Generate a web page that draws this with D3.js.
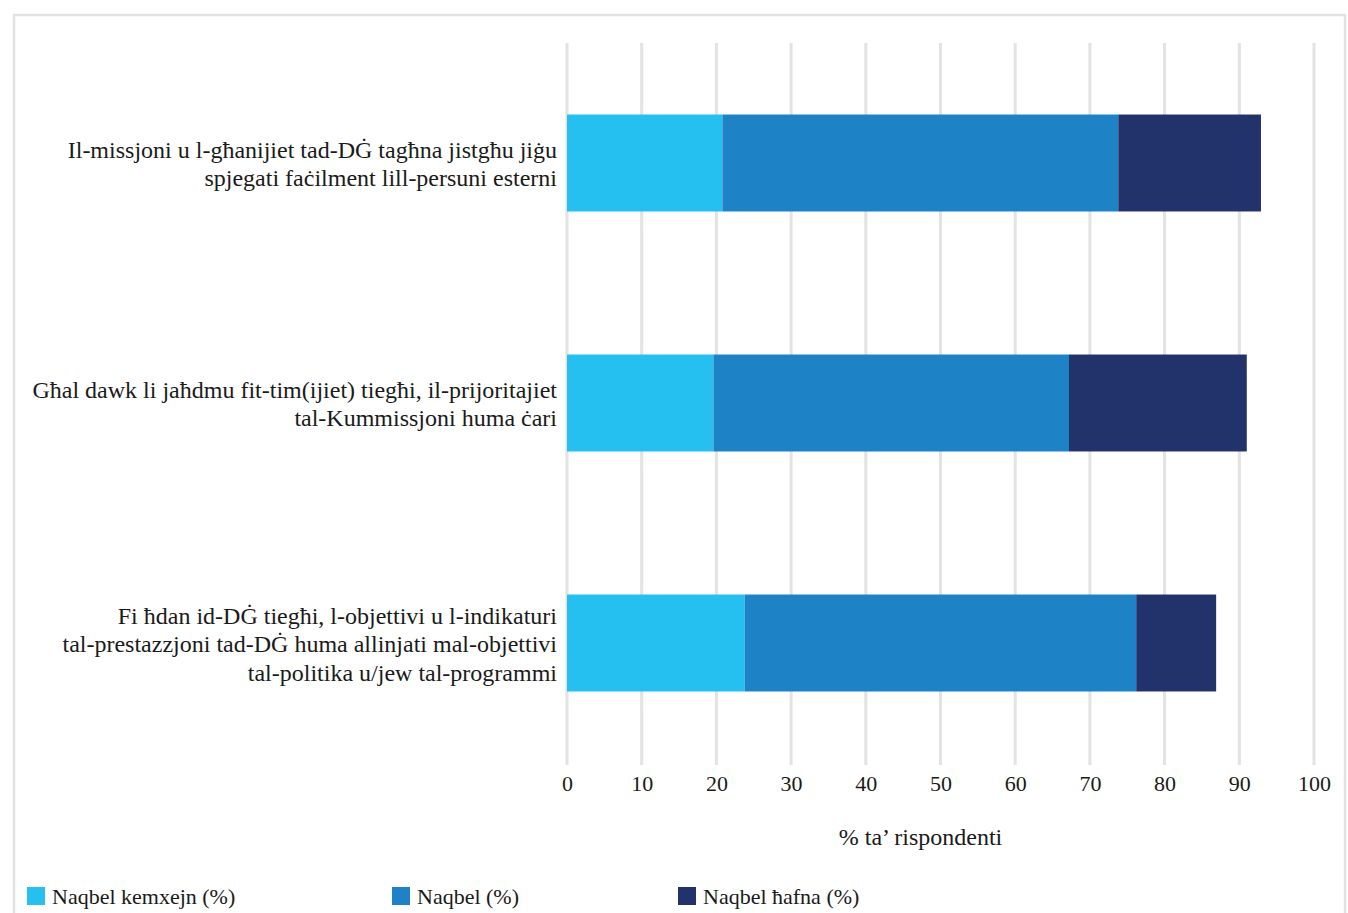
<!DOCTYPE html>
<html>
<head>
<meta charset="utf-8">
<script src="https://cdn.jsdelivr.net/npm/d3@7"></script>
<style>
    body { margin: 0; background: #fff; }
    svg text { font-family: "Liberation Serif", "DejaVu Serif", serif; fill: #1a1a1a; }
</style>
</head>
<body>
<div id="chart"></div>
<script>
/* ============================================= */
/* Data */
/* ============================================= */

const categories = [
    ['Il-missjoni u l-għanijiet tad-DĠ tagħna jistgħu jiġu', 'spjegati faċilment lill-persuni esterni'],
    ['Għal dawk li jaħdmu fit-tim(ijiet) tiegħi, il-prijoritajiet', 'tal-Kummissjoni huma ċari'],
    ['Fi ħdan id-DĠ tiegħi, l-objettivi u l-indikaturi', 'tal-prestazzjoni tad-DĠ huma allinjati mal-objettivi', 'tal-politika u/jew tal-programmi']
];
const seriesNames = ['Naqbel kemxejn (%)', 'Naqbel (%)', 'Naqbel ħafna (%)'];
const naqbelKemxejn = [20.8, 19.6, 23.8];
const naqbel = [53.0, 47.6, 52.4];
const naqbelHafna = [19.1, 23.8, 10.7];
const xTicks = [0, 10, 20, 30, 40, 50, 60, 70, 80, 90, 100];
const xTitle = '% ta\u2019 rispondenti';

const colors = ['#25bff0', '#1d83c6', '#22336b'];

/* ============================================= */
/* Layout */
/* ============================================= */

const width = 1348, height = 913;
const plot = { left: 567, right: 1314, top: 43, bottom: 763 };

const svg = d3.select('#chart').append('svg')
    .attr('width', width)
    .attr('height', height);

// outer frame
svg.append('rect')
    .attr('x', 14).attr('y', 15)
    .attr('width', width - 17).attr('height', height)
    .attr('fill', 'none')
    .attr('stroke', '#e2e2e2')
    .attr('stroke-width', 2.5);

const x = d3.scaleLinear().domain([0, 100]).range([plot.left, plot.right]);
const y = d3.scaleBand()
    .domain(d3.range(categories.length))
    .range([plot.top, plot.bottom])
    .paddingInner(0.596)
    .paddingOuter(0.298);

// gridlines
svg.append('g')
    .selectAll('line')
    .data(xTicks)
    .join('line')
    .attr('x1', d => x(d)).attr('x2', d => x(d))
    .attr('y1', plot.top).attr('y2', plot.bottom + 2)
    .attr('stroke', '#e3e3e3')
    .attr('stroke-width', 3);

/* ============================================= */
/* Bars */
/* ============================================= */

const rows = categories.map((c, i) => ({ i, v: [naqbelKemxejn[i], naqbel[i], naqbelHafna[i]] }));
const stacked = d3.stack().keys([0, 1, 2]).value((d, k) => d.v[k])(rows);

svg.append('g')
    .selectAll('g')
    .data(stacked)
    .join('g')
    .attr('fill', (d, k) => colors[k])
    .selectAll('rect')
    .data(d => d)
    .join('rect')
    .attr('x', d => x(d[0]))
    .attr('width', d => x(d[1]) - x(d[0]))
    .attr('y', d => y(d.data.i))
    .attr('height', y.bandwidth());

/* ============================================= */
/* Axes and labels */
/* ============================================= */

const xAxis = svg.append('g')
    .attr('transform', `translate(0,${plot.bottom})`)
    .call(d3.axisBottom(x).tickValues(xTicks).tickSize(0).tickPadding(12).tickFormat(d3.format('d')));
xAxis.select('.domain').remove();
xAxis.selectAll('text')
    .style('font-family', '"Liberation Serif", serif')
    .style('font-size', '22px')
    .attr('fill', '#1a1a1a');

svg.append('text')
    .attr('x', (plot.left + plot.right) / 2 - 20)
    .attr('y', 845)
    .attr('text-anchor', 'middle')
    .style('font-size', '24px')
    .text(xTitle);

const lineH = 28.5;
svg.append('g')
    .selectAll('text')
    .data(categories)
    .join('text')
    .attr('text-anchor', 'end')
    .style('font-size', '24px')
    .attr('transform', (d, i) => {
        const cy = y(i) + y.bandwidth() / 2;
        return `translate(557,${cy - (d.length - 1) * lineH / 2 + 9})`;
    })
    .selectAll('tspan')
    .data(d => d)
    .join('tspan')
    .attr('x', 0)
    .attr('dy', (d, j) => j === 0 ? 0 : lineH)
    .text(d => d);

// legend
const legendX = [27, 392, 678];
const legend = svg.append('g')
    .selectAll('g')
    .data(seriesNames)
    .join('g')
    .attr('transform', (d, i) => `translate(${legendX[i]},887)`);
legend.append('rect')
    .attr('width', 18).attr('height', 18)
    .attr('fill', (d, i) => colors[i]);
legend.append('text')
    .attr('x', 25).attr('y', 17)
    .style('font-size', '22px')
    .text(d => d);
</script>
</body>
</html>
